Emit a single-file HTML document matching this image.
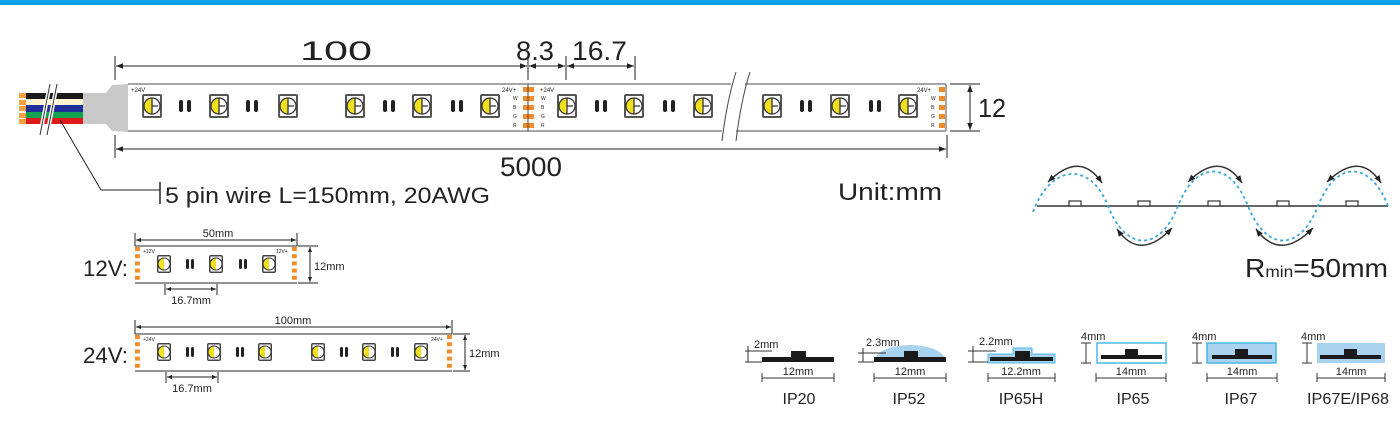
<!DOCTYPE html>
<html><head><meta charset="utf-8"><style>
html,body{margin:0;padding:0;background:#fff}
svg{display:block}
text{font-family:"Liberation Sans",Arial,sans-serif;fill:#222}
</style></head><body>
<svg width="1400" height="446" viewBox="0 0 1400 446" xmlns="http://www.w3.org/2000/svg">
<defs>
<marker id="ar" viewBox="0 0 10 10" refX="10" refY="5" markerWidth="7" markerHeight="7" orient="auto-start-reverse"><path d="M0,1 L10,5 L0,9 z" fill="#222"/></marker>
<marker id="ars" viewBox="0 0 10 10" refX="10" refY="5" markerWidth="5" markerHeight="5" orient="auto-start-reverse"><path d="M0,1 L10,5 L0,9 z" fill="#222"/></marker>
<g id="led">
<rect x="-10" y="-12" width="20" height="24" rx="2" fill="#555"/>
<rect x="-8" y="-10" width="16" height="20" fill="#fff"/>
<path d="M0,-8 A8,8 0 0 0 0,8 z" fill="#f0e020"/>
<circle cx="0" cy="0" r="8" fill="none" stroke="#333" stroke-width="1.3"/>
<path d="M0,-8 V8 M0,0 H6" stroke="#333" stroke-width="1.3"/>
</g>
<g id="pair"><rect x="-6" y="-6" width="4" height="12" rx="2" fill="#222"/><rect x="2" y="-6" width="4" height="12" rx="2" fill="#222"/></g>
<g id="sled">
<rect x="-7" y="-9" width="14" height="18" rx="2" fill="#444"/>
<rect x="-5.5" y="-7.5" width="11" height="15" fill="#fff"/>
<path d="M0,-6 A6,6 0 0 0 0,6 z" fill="#f0e020"/>
<circle r="6" fill="none" stroke="#333" stroke-width="1"/>
</g>
<g id="spair"><rect x="-4" y="-5" width="3" height="10" rx="1.5" fill="#222"/><rect x="1" y="-5" width="3" height="10" rx="1.5" fill="#222"/></g>
<g id="pads"><rect x="0" y="0" width="6" height="5" fill="#f28c28"/><rect x="0" y="9" width="6" height="5" fill="#f28c28"/><rect x="0" y="18" width="6" height="5" fill="#f28c28"/><rect x="0" y="27" width="6" height="5" fill="#f28c28"/><rect x="0" y="36" width="6" height="5" fill="#f28c28"/></g>
</defs>
<rect x="0" y="0" width="1400" height="5" fill="#00a0e9"/>

<!-- wires -->
<rect x="19" y="93" width="7" height="5" fill="#f2a040"/><rect x="19" y="100" width="7" height="5" fill="#f2a040"/><rect x="19" y="106" width="7" height="5" fill="#f2a040"/><rect x="19" y="113" width="7" height="5" fill="#f2a040"/><rect x="19" y="119" width="7" height="5" fill="#f2a040"/>
<rect x="26" y="93" width="57" height="6" fill="#1a1a1a"/>
<rect x="26" y="99" width="57" height="6" fill="#fbf3d0"/>
<rect x="26" y="105" width="57" height="7" fill="#1f2f9a"/>
<rect x="26" y="112" width="57" height="6" fill="#10a050"/>
<rect x="26" y="118" width="57" height="6" fill="#e01a1a"/>
<path d="M40,135 L50,84 M47,135 L57,84" stroke="#fff" stroke-width="4"/>
<path d="M40,135 L50,84 M47,135 L57,84" stroke="#333" stroke-width="1"/>
<path d="M83,93 L106,93 L112,85 L128,84 L128,132 L112,131 L106,124 L83,124 z" fill="#c8c8c8"/>

<!-- main strip -->
<path d="M128,84 H731 M745,84 H946 M128,131 H722 M736,131 H946" stroke="#888" stroke-width="1.5"/>
<path d="M736,72 Q727,100 722,141 M750,72 Q741,100 736,141" stroke="#444" stroke-width="1" fill="none"/>
<line x1="946" y1="84" x2="946" y2="131" stroke="#888" stroke-width="1.5"/>
<use href="#pads" x="939" y="87"/>
<use href="#pads" x="523" y="87"/><use href="#pads" x="528" y="87"/>
<line x1="528" y1="84" x2="528" y2="131" stroke="#444"/>
<text x="131" y="92" font-size="6">+24V</text>
<text x="502" y="92" font-size="6">24V+</text><text x="540" y="92" font-size="6">+24V</text>
<text x="917" y="92" font-size="6">24V+</text>
<g font-size="5" fill="#888"><text x="513" y="100">W</text><text x="513" y="109">B</text><text x="513" y="118">G</text><text x="513" y="127">R</text>
<text x="541" y="100">W</text><text x="541" y="109">B</text><text x="541" y="118">G</text><text x="541" y="127">R</text>
<text x="931" y="100">W</text><text x="931" y="109">B</text><text x="931" y="118">G</text><text x="931" y="127">R</text></g>
<use href="#led" x="152" y="106"/><use href="#pair" x="185" y="106"/>
<use href="#led" x="219" y="106"/><use href="#pair" x="252" y="106"/>
<use href="#led" x="288" y="106"/>
<use href="#led" x="355" y="106"/><use href="#pair" x="389" y="106"/>
<use href="#led" x="422" y="106"/><use href="#pair" x="457" y="106"/>
<use href="#led" x="490" y="106"/>
<use href="#led" x="567" y="106"/><use href="#pair" x="601" y="106"/>
<use href="#led" x="634" y="106"/><use href="#pair" x="669" y="106"/>
<use href="#led" x="703" y="106"/>
<use href="#led" x="772" y="106"/><use href="#pair" x="806" y="106"/>
<use href="#led" x="840" y="106"/><use href="#pair" x="875" y="106"/>
<use href="#led" x="908" y="106"/>

<!-- dims -->
<g stroke="#222" stroke-width="1" fill="none">
<line x1="115" y1="56" x2="115" y2="80"/><line x1="528" y1="56" x2="528" y2="80"/><line x1="566" y1="56" x2="566" y2="80"/><line x1="635" y1="56" x2="635" y2="80"/>
<line x1="116" y1="66" x2="527" y2="66" marker-start="url(#ar)" marker-end="url(#ar)"/>
<line x1="529" y1="66" x2="565" y2="66" marker-start="url(#ar)" marker-end="url(#ar)"/>
<line x1="567" y1="66" x2="634" y2="66" marker-start="url(#ar)" marker-end="url(#ar)"/>
<line x1="115" y1="135" x2="115" y2="158"/><line x1="947" y1="135" x2="947" y2="158"/>
<line x1="116" y1="149" x2="946" y2="149" marker-start="url(#ar)" marker-end="url(#ar)"/>
<line x1="950" y1="84" x2="980" y2="84"/><line x1="950" y1="131" x2="980" y2="131"/>
<line x1="970" y1="85" x2="970" y2="130" marker-start="url(#ar)" marker-end="url(#ar)"/>
<polyline points="60,120 101,190 160,190"/>
<line x1="160" y1="182" x2="160" y2="204" stroke-width="1.5"/>
</g>
<text x="300" y="60" font-size="27" textLength="72" lengthAdjust="spacingAndGlyphs">100</text>
<text x="516" y="60" font-size="27" textLength="38" lengthAdjust="spacingAndGlyphs">8.3</text>
<text x="572" y="60" font-size="27" textLength="55" lengthAdjust="spacingAndGlyphs">16.7</text>
<text x="500" y="176" font-size="27" textLength="62" lengthAdjust="spacingAndGlyphs">5000</text>
<text x="978" y="117" font-size="26" textLength="28" lengthAdjust="spacingAndGlyphs">12</text>
<text x="165" y="203" font-size="22" textLength="325" lengthAdjust="spacingAndGlyphs">5 pin wire L=150mm, 20AWG</text>
<text x="838" y="200" font-size="24" textLength="104" lengthAdjust="spacingAndGlyphs">Unit:mm</text>

<!-- 12V small strip -->
<text x="83" y="276" font-size="22" textLength="45" lengthAdjust="spacingAndGlyphs">12V:</text>
<path d="M135,246 H297 M135,283 H297" stroke="#555" stroke-width="1.2"/>
<g transform="translate(135,247) scale(0.8)"><use href="#pads"/></g>
<g transform="translate(292,247) scale(0.8)"><use href="#pads"/></g>
<text x="143" y="253" font-size="5">+12V</text><text x="276" y="253" font-size="5">12V+</text>
<use href="#sled" x="164" y="264"/><use href="#spair" x="190" y="264"/><use href="#sled" x="216" y="264"/><use href="#spair" x="243" y="264"/><use href="#sled" x="269" y="264"/>
<g stroke="#222" fill="none">
<line x1="135" y1="233" x2="135" y2="246"/><line x1="297" y1="233" x2="297" y2="246"/>
<line x1="136" y1="240" x2="296" y2="240" marker-start="url(#ars)" marker-end="url(#ars)"/>
<line x1="298" y1="246" x2="318" y2="246"/><line x1="298" y1="283" x2="318" y2="283"/>
<line x1="310" y1="247" x2="310" y2="282" marker-start="url(#ars)" marker-end="url(#ars)"/>
<line x1="165" y1="284" x2="165" y2="295"/><line x1="217" y1="284" x2="217" y2="295"/>
<line x1="166" y1="289" x2="216" y2="289" marker-start="url(#ars)" marker-end="url(#ars)"/>
</g>
<text x="218" y="237" font-size="11" text-anchor="middle">50mm</text>
<text x="314" y="270" font-size="11">12mm</text>
<text x="191" y="304" font-size="11" text-anchor="middle">16.7mm</text>

<!-- 24V small strip -->
<text x="83" y="363" font-size="22" textLength="45" lengthAdjust="spacingAndGlyphs">24V:</text>
<path d="M135,334 H452 M135,371 H452" stroke="#555" stroke-width="1.2"/>
<g transform="translate(135,335) scale(0.8)"><use href="#pads"/></g>
<g transform="translate(447,335) scale(0.8)"><use href="#pads"/></g>
<text x="143" y="341" font-size="5">+24V</text><text x="431" y="341" font-size="5">24V+</text>
<use href="#sled" x="164" y="352"/><use href="#spair" x="190" y="352"/><use href="#sled" x="214" y="352"/><use href="#spair" x="240" y="352"/><use href="#sled" x="265" y="352"/>
<use href="#sled" x="318" y="352"/><use href="#spair" x="344" y="352"/><use href="#sled" x="369" y="352"/><use href="#spair" x="395" y="352"/><use href="#sled" x="421" y="352"/>
<g stroke="#222" fill="none">
<line x1="135" y1="320" x2="135" y2="334"/><line x1="452" y1="320" x2="452" y2="334"/>
<line x1="136" y1="327" x2="451" y2="327" marker-start="url(#ars)" marker-end="url(#ars)"/>
<line x1="453" y1="334" x2="470" y2="334"/><line x1="453" y1="371" x2="470" y2="371"/>
<line x1="465" y1="335" x2="465" y2="370" marker-start="url(#ars)" marker-end="url(#ars)"/>
<line x1="166" y1="372" x2="166" y2="383"/><line x1="218" y1="372" x2="218" y2="383"/>
<line x1="167" y1="377" x2="217" y2="377" marker-start="url(#ars)" marker-end="url(#ars)"/>
</g>
<text x="293" y="324" font-size="11" text-anchor="middle">100mm</text>
<text x="469" y="357" font-size="11">12mm</text>
<text x="192" y="392" font-size="11" text-anchor="middle">16.7mm</text>

<!-- wave -->
<line x1="1037" y1="206" x2="1388" y2="206" stroke="#333" stroke-width="1.5"/>
<g fill="#fff" stroke="#333" stroke-width="1.2">
<rect x="1069" y="201" width="12" height="5"/><rect x="1138" y="201" width="12" height="5"/><rect x="1208" y="201" width="12" height="5"/><rect x="1277" y="201" width="12" height="5"/><rect x="1346" y="201" width="12" height="5"/>
</g>
<path d="M1033,212 C1050,165 1090,160 1108,206 C1126,252 1160,252 1178,206 C1196,160 1230,160 1248,206 C1266,252 1300,252 1318,206 C1336,160 1370,160 1388,206" fill="none" stroke="#3aa8d8" stroke-width="1.8" stroke-dasharray="3,3"/>
<g stroke="#333" stroke-width="1.5" fill="none">
<path d="M1048,182 Q1080,150 1102,183" marker-start="url(#ars)" marker-end="url(#ars)"/>
<path d="M1188,182 Q1220,150 1242,183" marker-start="url(#ars)" marker-end="url(#ars)"/>
<path d="M1327,182 Q1360,150 1381,183" marker-start="url(#ars)" marker-end="url(#ars)"/>
<path d="M1117,229 Q1140,262 1172,228" marker-start="url(#ars)" marker-end="url(#ars)"/>
<path d="M1256,229 Q1280,262 1313,228" marker-start="url(#ars)" marker-end="url(#ars)"/>
</g>
<text x="1245" y="277" font-size="26" textLength="143" lengthAdjust="spacingAndGlyphs">R<tspan font-size="16">min</tspan>=50mm</text>

<!-- IP profiles -->
<g fill="#1a1a1a">
<rect x="762" y="357" width="72" height="5"/><rect x="791" y="351" width="15" height="7"/>
</g>
<path d="M874,361 Q878,346 910,345 Q942,346 946,361 z" fill="#a8d2ee"/>
<rect x="874" y="357" width="72" height="5" fill="#1a1a1a"/><rect x="904" y="351" width="14" height="7" fill="#1a1a1a"/>
<path d="M988,363 V354 H1013 V348 H1032 V354 H1055 V363 z" fill="#a8d2ee" stroke="#4ab8e6" stroke-width="1"/>
<rect x="990" y="357" width="63" height="4" fill="#1a1a1a"/><rect x="1015" y="351" width="15" height="6" fill="#1a1a1a"/>
<rect x="1097" y="343" width="69" height="20" fill="#fff" stroke="#4ab8e6" stroke-width="1.5"/>
<rect x="1101" y="355" width="61" height="4" fill="#1a1a1a"/><rect x="1125" y="349" width="13" height="6" fill="#1a1a1a"/>
<rect x="1207" y="343" width="69" height="20" fill="#a8d2ee" stroke="#4ab8e6" stroke-width="1.5"/>
<rect x="1212" y="355" width="60" height="4" fill="#1a1a1a"/><rect x="1235" y="349" width="13" height="6" fill="#1a1a1a"/>
<rect x="1317" y="343" width="68" height="20" fill="#a8d2ee"/>
<rect x="1320" y="355" width="61" height="4" fill="#1a1a1a"/><rect x="1344" y="349" width="13" height="6" fill="#1a1a1a"/>
<g stroke="#333" stroke-width="1" fill="none">
<path d="M745,351 H772 M748,346 V362 M745,362 H762"/>
<path d="M858,353 H886 M863,348 V362 M858,362 H874"/>
<path d="M968,351 H996 M973,346 V362 M968,362 H988"/>
<path d="M1081,343 H1091 M1086,343 V363 M1081,363 H1091"/>
<path d="M1192,343 H1202 M1197,343 V363 M1192,363 H1202"/>
<path d="M1302,343 H1312 M1307,343 V363 M1302,363 H1312"/>
<path d="M762,373 V382 M834,373 V382 M762,378 H834"/>
<path d="M874,373 V382 M946,373 V382 M874,378 H946"/>
<path d="M988,373 V382 M1055,373 V382 M988,378 H1055"/>
<path d="M1096,373 V382 M1166,373 V382 M1096,378 H1166"/>
<path d="M1207,373 V382 M1277,373 V382 M1207,378 H1277"/>
<path d="M1317,373 V382 M1385,373 V382 M1317,378 H1385"/>
</g>
<g font-size="11">
<text x="754" y="348">2mm</text><text x="866" y="346">2.3mm</text><text x="979" y="345">2.2mm</text>
<text x="1081" y="340">4mm</text><text x="1192" y="340">4mm</text><text x="1301" y="340">4mm</text>
<text x="798" y="375" text-anchor="middle">12mm</text><text x="910" y="375" text-anchor="middle">12mm</text><text x="1021" y="375" text-anchor="middle">12.2mm</text>
<text x="1131" y="375" text-anchor="middle">14mm</text><text x="1242" y="375" text-anchor="middle">14mm</text><text x="1351" y="375" text-anchor="middle">14mm</text>
</g>
<g font-size="16" text-anchor="middle">
<text x="799" y="404">IP20</text><text x="909" y="404">IP52</text><text x="1021" y="404">IP65H</text>
<text x="1133" y="404">IP65</text><text x="1241" y="404">IP67</text><text x="1348" y="404" textLength="82" lengthAdjust="spacingAndGlyphs">IP67E/IP68</text>
</g>
</svg>
</body></html>
